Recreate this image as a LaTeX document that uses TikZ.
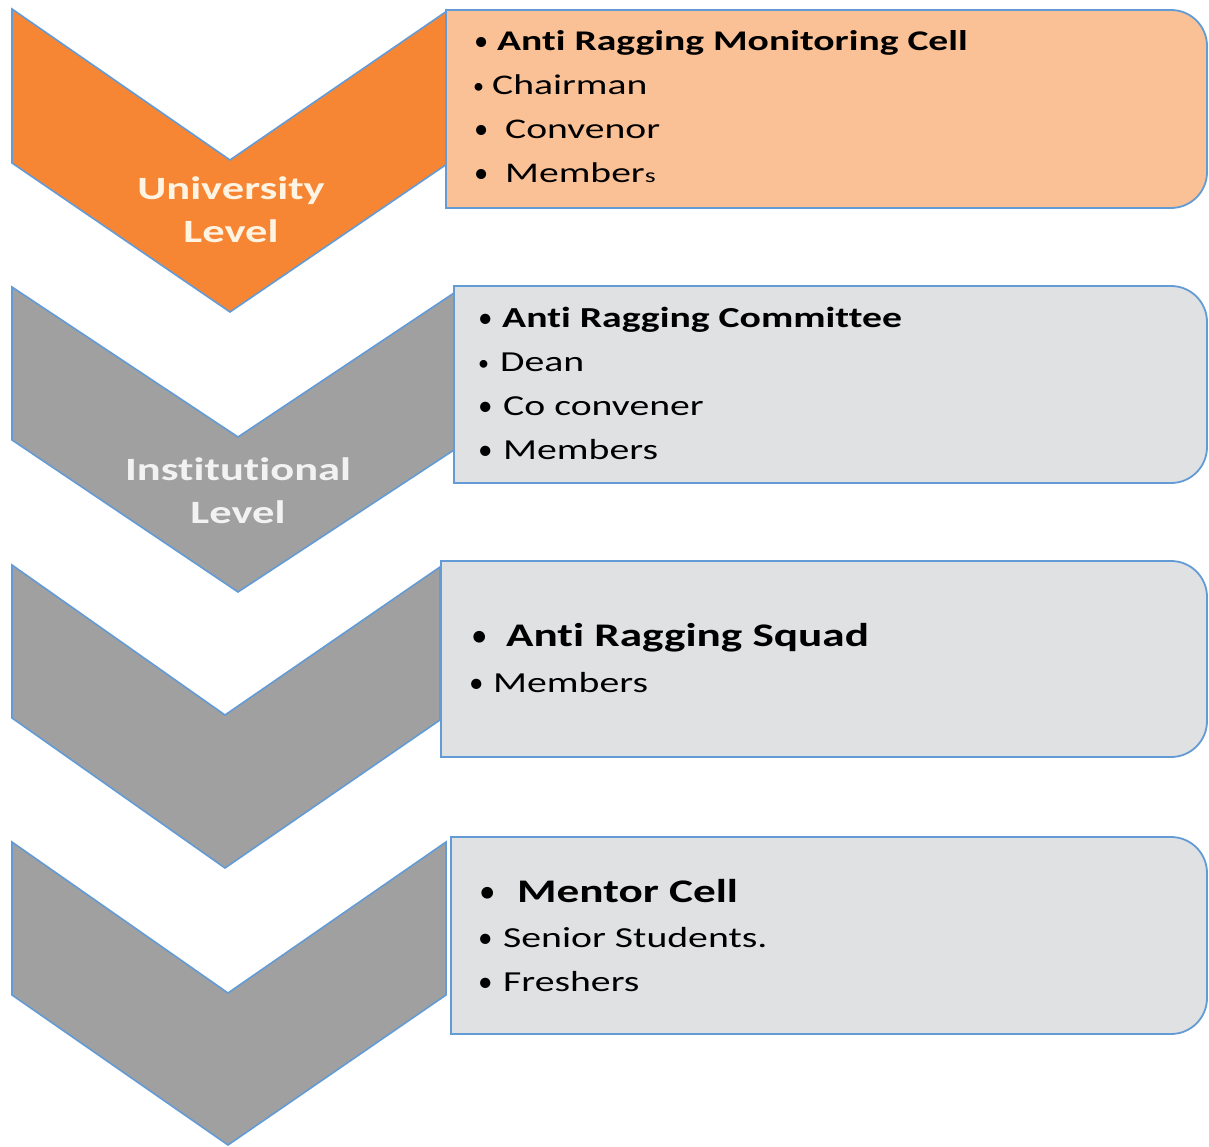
\documentclass[tikz,border=0pt]{standalone}
\usepackage{fontspec}
\setmainfont{Carlito}
\newfontfamily\boxfont[FakeStretch=1.37, RawFeature={-liga;-clig;-calt;-dlig}]{Carlito}
\newfontfamily\boxfontA[FakeStretch=1.39, RawFeature={-liga;-clig;-calt;-dlig}]{Carlito}
\newfontfamily\lvlfont[FakeStretch=1.37, RawFeature={-liga;-clig;-calt;-dlig}]{Carlito}
\newfontfamily\bulfont{Carlito}
\definecolor{orangeC}{RGB}{247,134,52}
\definecolor{grayC}{RGB}{161,160,160}
\definecolor{peach}{RGB}{250,193,151}
\definecolor{lgray}{RGB}{224,225,227}
\definecolor{bordc}{RGB}{98,155,213}
\definecolor{cream}{RGB}{255,243,226}
\tikzset{
  chev/.style={draw=bordc, line width=1.6pt, line join=miter},
  panel/.style={draw=bordc, line width=1.8pt},
  itemA/.style={anchor=base west, inner sep=0pt, font=\boxfontA\fontsize{28.5}{30}\selectfont},
  itemB/.style={anchor=base west, inner sep=0pt, font=\boxfont\fontsize{29}{30}\selectfont},
  itemH/.style={anchor=base west, inner sep=0pt, font=\boxfont\fontsize{33}{34}\selectfont},
  lvl/.style={anchor=base, inner sep=0pt, font=\lvlfont\bfseries\fontsize{32.5}{34}\selectfont}
}
\newcommand{\bul}[1]{\makebox[#1][l]{\bulfont\textbullet}}
\newcommand{\sbul}[1]{\makebox[#1][l]{\bulfont\fontsize{22}{22}\selectfont\raisebox{1pt}{\textbullet}}}
\begin{document}
\begin{tikzpicture}[x=1pt,y=-1pt]
\useasboundingbox (0,0) rectangle (1209,1147);
% chevrons
\draw[chev, fill=orangeC] (12,9) -- (230,160) -- (447,11) -- (447,164) -- (230,312) -- (12,163) -- cycle;
\draw[chev, fill=grayC] (12,287) -- (238,437) -- (454,293) -- (454,450) -- (238,592) -- (12,440) -- cycle;
\draw[chev, fill=grayC] (12,565) -- (225,715) -- (440,567) -- (440,720) -- (225,868) -- (12,718) -- cycle;
\draw[chev, fill=grayC] (12,842) -- (228,993) -- (446,842) -- (446,995) -- (228,1145) -- (12,995) -- cycle;
% panels
\draw[panel, fill=peach] (446,208) -- (446,10) [rounded corners=36pt] -- (1207,10) -- (1207,208) [sharp corners] -- cycle;
\draw[panel, fill=lgray] (454,483) -- (454,286) [rounded corners=36pt] -- (1207,286) -- (1207,483) [sharp corners] -- cycle;
\draw[panel, fill=lgray] (441,757) -- (441,561) [rounded corners=36pt] -- (1207,561) -- (1207,757) [sharp corners] -- cycle;
\draw[panel, fill=lgray] (451,1034) -- (451,837) [rounded corners=36pt] -- (1207,837) -- (1207,1034) [sharp corners] -- cycle;
% level labels
\node[lvl, text=cream] (u1) at (231,200) {University};
\node[lvl, text=cream] (u2) at (231,243) {Level};
\node[lvl, text=white!95!black] (i1) at (238,480) {Institutional};
\node[lvl, text=white!95!black] (i2) at (238,523) {Level};
% box 1
\node[itemA] (a1) at (474,51) {\bul{23pt}\textbf{Anti Ragging Monitoring Cell}};
\node[itemA] (a2) at (473,95) {\sbul{19pt}Chairman};
\node[itemA] (a3) at (474,139) {\bul{31pt}Convenor};
\node[itemA] (a4) at (474,183) {\bul{31pt}Member{\fontsize{20}{20}\selectfont s}};
% box 2
\node[itemB] (b1) at (478,327) {\bul{24pt}\textbf{Anti Ragging Committee}};
\node[itemB] (b2) at (478,371) {\sbul{22pt}Dean};
\node[itemB] (b3) at (478,415) {\bul{25pt}Co convener};
\node[itemB] (b4) at (478,459) {\bul{25pt}Members};
% box 3
\node[itemH] (c1) at (471,646) {\bul{35pt}\textbf{Anti Ragging Squad}};
\node[itemB] (c2) at (469,692) {\bul{24pt}Members};
% box 4
\node[itemH] (d1) at (479,902) {\bul{38pt}\textbf{Mentor Cell}};
\node[itemB] (d2) at (478,947) {\bul{25pt}Senior Students.};
\node[itemB] (d3) at (478,991) {\bul{25pt}Freshers};
\end{tikzpicture}
\end{document}
